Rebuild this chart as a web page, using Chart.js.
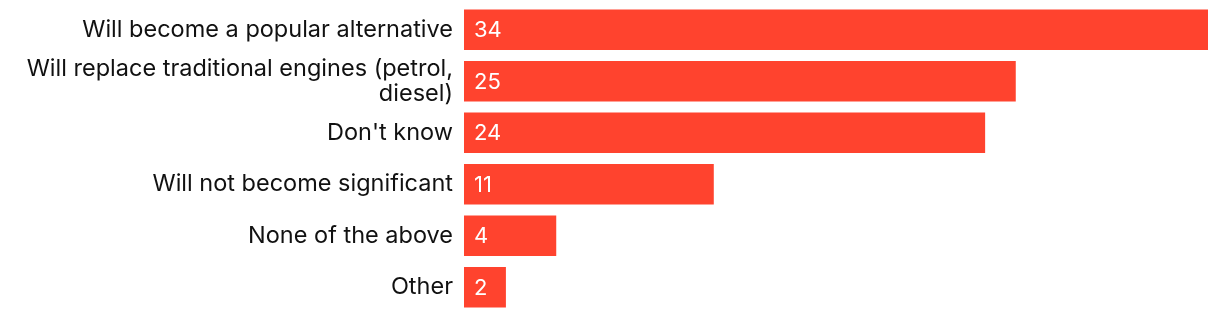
<!DOCTYPE html>
<html>
<head>
<meta charset="utf-8">
<script src="https://cdn.jsdelivr.net/npm/chart.js@4/dist/chart.umd.min.js"></script>
<style>
  html, body { margin: 0; padding: 0; background: #fff; }
  #wrap { width: 1220px; height: 318px; }
</style>
</head>
<body>
<div id="wrap"><canvas id="bars"></canvas></div>
<script>
// answers and shares (%)
var categories = [
  'Will become a popular alternative',
  ['Will replace traditional engines (petrol,', 'diesel)'],
  "Don't know",
  'Will not become significant',
  'None of the above',
  'Other'
];
var shares = [34, 25.2, 23.8, 11.4, 4.2, 1.9];

var barColor = '#ff432e';
var fontName = 'Inter';

// white value inside each bar, near its left end
var valueLabels = {
  id: 'valueLabels',
  afterDatasetsDraw: function(chart) {
    var ctx = chart.ctx;
    var meta = chart.getDatasetMeta(0);
    ctx.save();
    ctx.fillStyle = '#ffffff';
    ctx.font = '22px ' + fontName;
    ctx.textAlign = 'left';
    ctx.textBaseline = 'middle';
    meta.data.forEach(function(bar, i) {
      ctx.fillText(Math.round(shares[i]), bar.base + 10, bar.y + 1);
    });
    ctx.restore();
  }
};

var ctx = document.getElementById('bars').getContext('2d');
var chart = new Chart(ctx, {
  type: 'bar',
  data: {
    labels: categories,
    datasets: [{
      data: shares,
      backgroundColor: barColor,
      barThickness: 40,
      borderWidth: 0
    }]
  },
  options: {
    indexAxis: 'y',
    responsive: true,
    maintainAspectRatio: false,
    animation: false,
    layout: { padding: { top: 4, bottom: 5, right: 12, left: 0 } },
    plugins: {
      legend: { display: false },
      tooltip: { enabled: false }
    },
    scales: {
      x: {
        display: false,
        min: 0,
        max: 34
      },
      y: {
        grid: { display: false, drawTicks: false },
        border: { display: false },
        ticks: {
          autoSkip: false,
          color: '#111111',
          padding: 11,
          font: { family: fontName, size: 23.5, lineHeight: 1.08 }
        },
        afterFit: function(scale) {
          scale.width = 464;
          scale.paddingTop = 0;
          scale.paddingBottom = 0;
        }
      }
    }
  },
  plugins: [valueLabels]
});
</script>
</body>
</html>
